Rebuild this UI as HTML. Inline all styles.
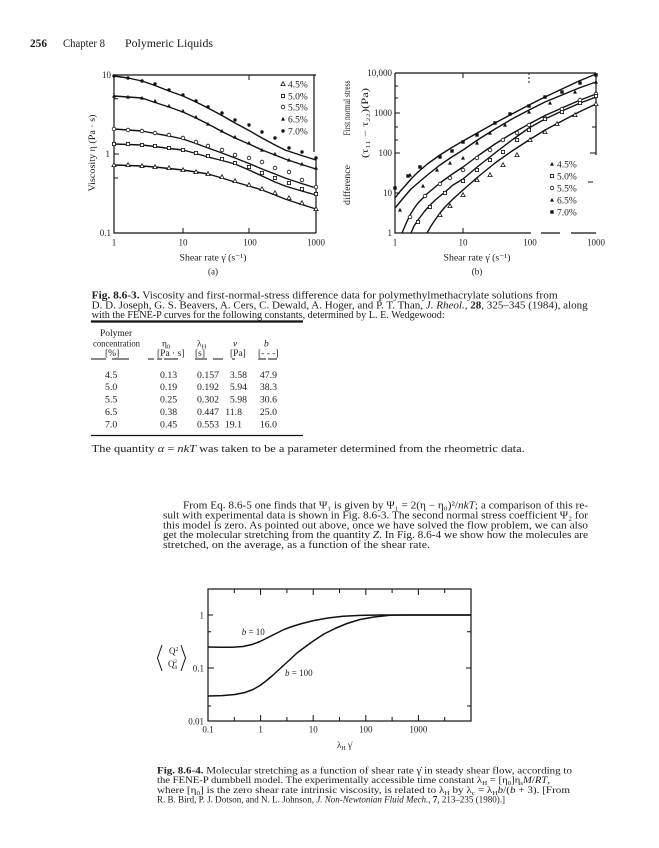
<!DOCTYPE html>
<html><head><meta charset="utf-8">
<style>
html,body{margin:0;padding:0;background:#fff;width:659px;height:848px;overflow:hidden}
svg{display:block}
</style></head>
<body>
<svg xmlns="http://www.w3.org/2000/svg" width="659" height="848" viewBox="0 0 659 848" font-family="'Liberation Serif','DejaVu Serif',serif" fill="#1c1c1c">
<defs>
<circle id="fc" r="1.7" fill="#111"/>
<rect id="fs" x="-1.7" y="-1.7" width="3.4" height="3.4" fill="#111"/>
<path id="ft" d="M0,-2.1L2,1.6H-2Z" fill="#111"/>
<circle id="oc" r="1.8" fill="#fff" stroke="#111" stroke-width="0.8"/>
<rect id="os" x="-1.6" y="-1.6" width="3.2" height="3.2" fill="#fff" stroke="#111" stroke-width="0.8"/>
<path id="ot" d="M0,-2.3L2.1,1.6H-2.1Z" fill="#fff" stroke="#111" stroke-width="0.8"/>
</defs>

<!-- Header -->
<text x="30" y="47" font-size="11.5" font-weight="bold" textLength="17" lengthAdjust="spacingAndGlyphs">256</text>
<text x="63" y="47" font-size="11.5" textLength="42" lengthAdjust="spacingAndGlyphs">Chapter 8</text>
<text x="125" y="47" font-size="11.5" textLength="88" lengthAdjust="spacingAndGlyphs">Polymeric Liquids</text>

<!-- ===== Left chart (a) ===== -->
<g stroke="#111" fill="none" stroke-width="1.2">
<path d="M114,75H316M114,75V233H316M314,75V152M316,157V233"/>
<path stroke-width="1" d="M114,98.8h4M114,154h5M114,178h4M183,233v-5M249,233v-5M249,75v5"/>
<g stroke-width="1.4" stroke-linejoin="round">
<polyline points="114,76 128,78 142,81 155,85.5 169,91 183,96 196,102 208,108 222,115.5 235,123 249,130.5 262,138 275,145 285,150 300,155 316,160"/>
<polyline points="114,96 128,97 142,98 155,102.5 169,107 183,112 196,118 208,124 222,131.5 235,138 249,144 262,150 275,155 285,159 300,164 316,169"/>
<polyline points="114,129 128,130 142,131 155,133.5 169,136 183,139 196,143.5 208,148 222,153 235,158 249,163.5 262,169 275,174 285,178 300,183 316,188"/>
<polyline points="114,144 128,144.5 142,145 155,146.5 169,148.5 183,150 196,153.5 208,157 222,160.5 235,164 249,170 262,176 275,182 285,186 300,190.5 316,195"/>
<polyline points="114,165 128,165.5 142,166 155,167 169,168.5 183,170 196,172 208,174 222,178 235,182 249,186 262,190 275,195 285,199 300,204 316,209"/>
</g>
</g>
<!-- left markers -->
<g>
<use href="#fc" x="114" y="76"/><use href="#fc" x="128" y="78"/><use href="#fc" x="142" y="81"/><use href="#fc" x="155" y="84"/><use href="#fc" x="169" y="90"/><use href="#fc" x="183" y="95"/><use href="#fc" x="196" y="101"/><use href="#fc" x="208" y="107"/><use href="#fc" x="222" y="113"/><use href="#fc" x="235" y="120"/><use href="#fc" x="249" y="125"/><use href="#fc" x="262" y="132"/><use href="#fc" x="275" y="138"/><use href="#fc" x="289" y="148"/><use href="#fc" x="302" y="152"/><use href="#fc" x="316" y="158"/>
<use href="#ft" x="114" y="96"/><use href="#ft" x="128" y="97"/><use href="#ft" x="142" y="98"/><use href="#ft" x="155" y="101"/><use href="#ft" x="169" y="106"/><use href="#ft" x="183" y="111"/><use href="#ft" x="196" y="117"/><use href="#ft" x="208" y="124"/><use href="#ft" x="222" y="131"/><use href="#ft" x="235" y="137"/><use href="#ft" x="249" y="143"/><use href="#ft" x="262" y="150"/><use href="#ft" x="275" y="154"/><use href="#ft" x="289" y="160"/><use href="#ft" x="302" y="164"/><use href="#ft" x="316" y="168"/>
<use href="#oc" x="114" y="129"/><use href="#oc" x="128" y="130"/><use href="#oc" x="142" y="131"/><use href="#oc" x="155" y="133"/><use href="#oc" x="169" y="135"/><use href="#oc" x="183" y="138"/><use href="#oc" x="196" y="142"/><use href="#oc" x="208" y="146"/><use href="#oc" x="222" y="150"/><use href="#oc" x="235" y="155"/><use href="#oc" x="249" y="158"/><use href="#oc" x="262" y="162"/><use href="#oc" x="275" y="168"/><use href="#oc" x="289" y="172"/><use href="#oc" x="302" y="180"/><use href="#oc" x="316" y="187"/>
<use href="#os" x="114" y="144"/><use href="#os" x="128" y="144"/><use href="#os" x="142" y="145"/><use href="#os" x="155" y="146"/><use href="#os" x="169" y="148"/><use href="#os" x="183" y="150"/><use href="#os" x="196" y="153"/><use href="#os" x="208" y="156"/><use href="#os" x="222" y="159"/><use href="#os" x="235" y="163"/><use href="#os" x="249" y="167"/><use href="#os" x="262" y="173"/><use href="#os" x="275" y="178"/><use href="#os" x="289" y="183"/><use href="#os" x="302" y="189"/><use href="#os" x="316" y="194"/>
<use href="#ot" x="114" y="165"/><use href="#ot" x="128" y="165"/><use href="#ot" x="142" y="166"/><use href="#ot" x="155" y="167"/><use href="#ot" x="169" y="168"/><use href="#ot" x="183" y="170"/><use href="#ot" x="196" y="172"/><use href="#ot" x="208" y="174"/><use href="#ot" x="222" y="177"/><use href="#ot" x="235" y="181"/><use href="#ot" x="249" y="185"/><use href="#ot" x="262" y="189"/><use href="#ot" x="275" y="193"/><use href="#ot" x="289" y="198"/><use href="#ot" x="302" y="203"/><use href="#ot" x="316" y="209"/>
</g>
<!-- left legend -->
<rect x="279" y="77" width="34" height="60" fill="#fff"/>
<use href="#ot" x="283" y="84"/><text x="288" y="87.5" font-size="9.5">4.5%</text>
<use href="#os" x="283" y="96"/><text x="288" y="99.5" font-size="9.5">5.0%</text>
<use href="#oc" x="283" y="107"/><text x="288" y="110.5" font-size="9.5">5.5%</text>
<use href="#ft" x="283" y="119"/><text x="288" y="122.5" font-size="9.5">6.5%</text>
<use href="#fc" x="283" y="131"/><text x="288" y="134.5" font-size="9.5">7.0%</text>
<!-- left axis labels -->
<g font-size="9">
<text x="111" y="78" text-anchor="end">10</text>
<text x="110" y="157" text-anchor="end">1</text>
<text x="111" y="236" text-anchor="end">0.1</text>
<text x="114" y="245.5" text-anchor="middle">1</text>
<text x="183" y="245.5" text-anchor="middle">10</text>
<text x="250" y="245.5" text-anchor="middle">100</text>
<text x="316" y="245.5" text-anchor="middle">1000</text>
</g>
<text x="213" y="260.5" font-size="9.5" text-anchor="middle" textLength="67" lengthAdjust="spacingAndGlyphs">Shear rate γ̇ (s⁻¹)</text>
<text x="213" y="274.5" font-size="9" text-anchor="middle">(a)</text>
<text transform="translate(95,153) rotate(-90)" font-size="9.5" text-anchor="middle" textLength="77" lengthAdjust="spacingAndGlyphs">Viscosity η (Pa · s)</text>

<!-- ===== Right chart (b) ===== -->
<g stroke="#111" fill="none" stroke-width="1.2">
<path d="M395,73H596M395,73V233H531M541,233h19M571,233h25M596,73V155"/>
<path stroke-width="1" d="M395,113h5M395,153h5M395,193h5M395,86h3M395,98h3M395,127h3M395,140h3M463,73v5M529,73v2M529,77v2M529,81v2M463,233v-5M596,98h-4M596,127h-4M596,153h-6M593,182h-5"/>
<g stroke-width="1.4" stroke-linejoin="round">
<polyline points="395,198 400,191.5 405,186 411,179 418,172 428,163.5 440,155 451,148 463,141 479,132 495,123 512,114 529,105 545,97 562,89 579,81 596,74"/>
<polyline points="395,208 400,202 405,196 411,189 418,183 428,174.5 440,165 451,157.5 463,150 479,139 495,129 512,119 529,110 545,102 562,95 579,88 596,82"/>
<polyline points="402,233 406,223.5 410,215 414,208.5 418,203 428,193 440,183 451,175 463,167 479,155 495,144 512,133.5 529,124 545,115.5 562,108 579,100.5 596,94"/>
<polyline points="411,233 414,226 418,220 424,212 430,205 437,198.5 445,192 453,185 463,179 479,165.5 495,153 512,140 529,128 545,119 562,111 579,103.5 596,97"/>
<polyline points="427,233 431,226 435,220 440,213 445,207 453,199 463,190 479,176 495,163 512,151 529,140 545,130 562,121 579,112 596,104"/>
</g>
</g>
<!-- right markers -->
<g>
<use href="#fs" x="395" y="188"/><use href="#fs" x="408" y="176"/><use href="#fs" x="420" y="167"/><use href="#fs" x="440" y="157"/><use href="#fs" x="452" y="151"/><use href="#fs" x="463" y="142"/><use href="#fs" x="477" y="135"/><use href="#fs" x="495" y="123"/><use href="#fs" x="510" y="114"/><use href="#fs" x="529" y="106"/><use href="#fs" x="545" y="97"/><use href="#fs" x="562" y="92"/><use href="#fs" x="580" y="83"/><use href="#fs" x="596" y="75"/>
<use href="#ft" x="400" y="210"/><use href="#ft" x="410" y="175"/><use href="#ft" x="423" y="186"/><use href="#ft" x="437" y="170"/><use href="#ft" x="450" y="163"/><use href="#ft" x="463" y="158"/><use href="#ft" x="477" y="143"/><use href="#ft" x="490" y="133"/><use href="#ft" x="505" y="125"/><use href="#ft" x="529" y="112"/><use href="#ft" x="550" y="103"/><use href="#ft" x="575" y="92"/><use href="#ft" x="596" y="82"/>
<use href="#oc" x="410" y="217"/><use href="#oc" x="425" y="196"/><use href="#oc" x="440" y="184"/><use href="#oc" x="450" y="178"/><use href="#oc" x="463" y="170"/><use href="#oc" x="477" y="158"/><use href="#oc" x="490" y="150"/><use href="#oc" x="503" y="140"/><use href="#oc" x="517" y="133"/><use href="#oc" x="529" y="125"/><use href="#oc" x="545" y="118"/><use href="#oc" x="562" y="109"/><use href="#oc" x="580" y="100"/><use href="#oc" x="596" y="94"/>
<use href="#os" x="418" y="222"/><use href="#os" x="430" y="207"/><use href="#os" x="445" y="193"/><use href="#os" x="463" y="181"/><use href="#os" x="477" y="170"/><use href="#os" x="490" y="160"/><use href="#os" x="503" y="152"/><use href="#os" x="517" y="140"/><use href="#os" x="529" y="130"/><use href="#os" x="545" y="119"/><use href="#os" x="562" y="112"/><use href="#os" x="580" y="103"/><use href="#os" x="596" y="96"/>
<use href="#ot" x="440" y="215"/><use href="#ot" x="450" y="206"/><use href="#ot" x="463" y="195"/><use href="#ot" x="477" y="180"/><use href="#ot" x="490" y="175"/><use href="#ot" x="503" y="165"/><use href="#ot" x="517" y="155"/><use href="#ot" x="530" y="140"/><use href="#ot" x="545" y="132"/><use href="#ot" x="557" y="124"/><use href="#ot" x="575" y="115"/><use href="#ot" x="596" y="104"/>
</g>
<!-- right legend -->
<rect x="547" y="158" width="36" height="60" fill="#fff"/>
<use href="#ft" x="552" y="164"/><text x="557" y="167.5" font-size="9.5">4.5%</text>
<use href="#os" x="552" y="176"/><text x="557" y="179.5" font-size="9.5">5.0%</text>
<use href="#oc" x="552" y="188"/><text x="557" y="191.5" font-size="9.5">5.5%</text>
<use href="#ft" x="552" y="200"/><text x="557" y="203.5" font-size="9.5">6.5%</text>
<use href="#fs" x="552" y="212"/><text x="557" y="215.5" font-size="9.5">7.0%</text>
<!-- right axis labels -->
<g font-size="9">
<text x="392" y="76" text-anchor="end">10,000</text>
<text x="392" y="116" text-anchor="end">1000</text>
<text x="392" y="156" text-anchor="end">100</text>
<text x="392" y="196" text-anchor="end">10</text>
<text x="392" y="236" text-anchor="end">1</text>
<text x="395" y="245.5" text-anchor="middle">1</text>
<text x="463" y="245.5" text-anchor="middle">10</text>
<text x="530" y="245.5" text-anchor="middle">100</text>
<text x="596" y="245.5" text-anchor="middle">1000</text>
</g>
<text x="477" y="260.5" font-size="9.5" text-anchor="middle" textLength="67" lengthAdjust="spacingAndGlyphs">Shear rate γ̇ (s⁻¹)</text>
<text x="477" y="274.5" font-size="9" text-anchor="middle">(b)</text>
<text transform="translate(350,108) rotate(-90)" font-size="9" text-anchor="middle" textLength="55" lengthAdjust="spacingAndGlyphs">First normal stress</text>
<text transform="translate(350,185) rotate(-90)" font-size="9" text-anchor="middle" textLength="40" lengthAdjust="spacingAndGlyphs">difference</text>
<text transform="translate(368,123) rotate(-90)" font-size="9" text-anchor="middle" textLength="70" lengthAdjust="spacingAndGlyphs">(τ₁₁ − τ₂₂)(Pa)</text>

<!-- ===== Caption Fig 8.6-3 ===== -->
<g font-size="10">
<text x="91.7" y="298.5" textLength="466" lengthAdjust="spacingAndGlyphs"><tspan font-weight="bold">Fig. 8.6-3.</tspan> Viscosity and first-normal-stress difference data for polymethylmethacrylate solutions from</text>
<text x="91.7" y="308.3" textLength="496" lengthAdjust="spacingAndGlyphs">D. D. Joseph, G. S. Beavers, A. Cers, C. Dewald, A. Hoger, and P. T. Than, <tspan font-style="italic">J. Rheol.</tspan>, <tspan font-weight="bold">28</tspan>, 325–345 (1984), along</text>
<text x="91.7" y="318" textLength="353" lengthAdjust="spacingAndGlyphs">with the FENE-P curves for the following constants, determined by L. E. Wedgewood:</text>
</g>
<g stroke="#111" fill="none">
<path d="M91,321.5H303" stroke-width="2.2"/>
<path d="M91,359h15M112,359h17M148,359h6M157,359h5M164,359h14M195,359h12M213,359h10M232,359h3M258,359h8M268,359h9" stroke-width="1"/>
<path d="M91,435.5H303" stroke-width="1.2"/>
</g>
<!-- table -->
<g font-size="9.5">
<text x="100" y="336">Polymer</text>
<text x="93" y="346.5" textLength="47" lengthAdjust="spacingAndGlyphs">concentration</text>
<text x="105" y="356">[%]</text>
<text x="162" y="346.5">η<tspan font-size="6.5" dy="2">0</tspan></text>
<text x="157" y="356">[Pa · s]</text>
<text x="197" y="346.5">λ<tspan font-size="6.5" dy="2">H</tspan></text>
<text x="195" y="356">[s]</text>
<text x="233" y="346.5" font-style="italic">ν</text>
<text x="230" y="356">[Pa]</text>
<text x="264" y="346.5" font-style="italic">b</text>
<text x="258" y="356">[- - -]</text>
</g>
<g font-size="9.8">
<text x="105" y="377.8">4.5</text><text x="160" y="377.8">0.13</text><text x="197" y="377.8">0.157</text><text x="247" y="377.8" text-anchor="end">3.58</text><text x="277" y="377.8" text-anchor="end">47.9</text>
<text x="105" y="390.2">5.0</text><text x="160" y="390.2">0.19</text><text x="197" y="390.2">0.192</text><text x="247" y="390.2" text-anchor="end">5.94</text><text x="277" y="390.2" text-anchor="end">38.3</text>
<text x="105" y="402.5">5.5</text><text x="160" y="402.5">0.25</text><text x="197" y="402.5">0.302</text><text x="247" y="402.5" text-anchor="end">5.98</text><text x="277" y="402.5" text-anchor="end">30.6</text>
<text x="105" y="415.2">6.5</text><text x="160" y="415.2">0.38</text><text x="197" y="415.2">0.447</text><text x="242" y="415.2" text-anchor="end">11.8</text><text x="277" y="415.2" text-anchor="end">25.0</text>
<text x="105" y="427.5">7.0</text><text x="160" y="427.5">0.45</text><text x="197" y="427.5">0.553</text><text x="242" y="427.5" text-anchor="end">19.1</text><text x="277" y="427.5" text-anchor="end">16.0</text>
</g>
<text x="91.7" y="451.8" font-size="10" textLength="433" lengthAdjust="spacingAndGlyphs">The quantity <tspan font-style="italic">α</tspan> = <tspan font-style="italic">nkT</tspan> was taken to be a parameter determined from the rheometric data.</text>

<!-- ===== Paragraph ===== -->
<g font-size="10.3">
<text x="183" y="508.7" textLength="405" lengthAdjust="spacingAndGlyphs">From Eq. 8.6-5 one finds that Ψ₁ is given by Ψ₁ = 2(η − η₀)²/<tspan font-style="italic">nkT</tspan>; a comparison of this re-</text>
<text x="163" y="518.5" textLength="425" lengthAdjust="spacingAndGlyphs">sult with experimental data is shown in Fig. 8.6-3. The second normal stress coefficient Ψ₂ for</text>
<text x="163" y="528.3" textLength="425" lengthAdjust="spacingAndGlyphs">this model is zero. As pointed out above, once we have solved the flow problem, we can also</text>
<text x="163" y="538.1" textLength="425" lengthAdjust="spacingAndGlyphs">get the molecular stretching from the quantity <tspan font-style="italic">Z</tspan>. In Fig. 8.6-4 we show how the molecules are</text>
<text x="163" y="547.9" textLength="267" lengthAdjust="spacingAndGlyphs">stretched, on the average, as a function of the shear rate.</text>
</g>

<!-- ===== Bottom chart ===== -->
<g stroke="#111" fill="none" stroke-width="1.2">
<rect x="208" y="589" width="263" height="132"/>
<path stroke-width="1" d="M234.3,721v-4M260.6,721v-6M286.9,721v-4M313.2,721v-6M339.5,721v-4M365.8,721v-6M392.1,721v-4M418.4,721v-6M444.7,721v-4M234.3,589v4M260.6,589v6M286.9,589v4M313.2,589v6M339.5,589v4M365.8,589v6M392.1,589v4M418.4,589v6M444.7,589v4M208,615h5M208,668h6M208,631.7h3M208,706h3M471,615h-5M471,631.7h-4M471,668h-5M471,706h-4"/>
<g stroke-width="1.5" stroke-linejoin="round">
<polyline points="208,647 220,647.3 232,647.3 243,646.5 252,644.5 260,641.5 268,637.5 276,633.5 284,629.5 292,626.5 302,623.5 314,620.5 328,618 343,616.3 360,615.4 380,615 471,615"/>
<polyline points="208,696 222,695.6 235,694.5 245,692.5 253,689.5 260,685.5 266,681 272,676 278,670.5 284,665 290,659.5 297,653 305,647 314,640.5 324,634 335,628.5 347,623.5 360,619.5 374,617 390,615.3 405,615 471,615"/>
</g>
<path stroke-width="1" d="M162,645L157.5,658L162,671M181,645L185.5,658L181,671"/>
</g>
<text x="169" y="654" font-size="9">Q<tspan font-size="6" dy="-3">2</tspan></text>
<text x="168" y="667" font-size="9">Q<tspan font-size="5.5" dy="2">0</tspan><tspan font-size="5.5" dx="-3" dy="-6">2</tspan></text>
<text x="241.7" y="635" font-size="9"><tspan font-style="italic">b</tspan> = 10</text>
<text x="285" y="676" font-size="9"><tspan font-style="italic">b</tspan> = 100</text>
<g font-size="9">
<text x="204" y="618.5" text-anchor="end">1</text>
<text x="204" y="671.5" text-anchor="end">0.1</text>
<text x="204" y="724.5" text-anchor="end">0.01</text>
<text x="208" y="732.5" text-anchor="middle">0.1</text>
<text x="260.6" y="732.5" text-anchor="middle">1</text>
<text x="313.2" y="732.5" text-anchor="middle">10</text>
<text x="365.8" y="732.5" text-anchor="middle">100</text>
<text x="418.4" y="732.5" text-anchor="middle">1000</text>
<text x="337" y="748">λ<tspan font-size="6" dy="2">H</tspan><tspan dy="-2"> γ̇</tspan></text>
</g>

<!-- ===== Caption Fig 8.6-4 ===== -->
<g font-size="9.8">
<text x="157" y="773.5" textLength="415" lengthAdjust="spacingAndGlyphs"><tspan font-weight="bold">Fig. 8.6-4.</tspan> Molecular stretching as a function of shear rate γ̇ in steady shear flow, according to</text>
<text x="157" y="783.2" textLength="393" lengthAdjust="spacingAndGlyphs">the FENE-P dumbbell model. The experimentally accessible time constant λ<tspan font-size="6.5" dy="2">H</tspan><tspan dy="-2"> = [η</tspan><tspan font-size="6.5" dy="2">0</tspan><tspan dy="-2">]η</tspan><tspan font-size="6.5" dy="2">s</tspan><tspan dy="-2"><tspan font-style="italic">M</tspan>/<tspan font-style="italic">RT</tspan>,</tspan></text>
<text x="157" y="792.9" textLength="413" lengthAdjust="spacingAndGlyphs">where [η<tspan font-size="6.5" dy="2">0</tspan><tspan dy="-2">] is the zero shear rate intrinsic viscosity, is related to λ</tspan><tspan font-size="6.5" dy="2">H</tspan><tspan dy="-2"> by λ</tspan><tspan font-size="6.5" dy="2">c</tspan><tspan dy="-2"> = λ</tspan><tspan font-size="6.5" dy="2">H</tspan><tspan dy="-2"><tspan font-style="italic">b</tspan>/(<tspan font-style="italic">b</tspan> + 3). [From</tspan></text>
<text x="157" y="802.5" textLength="348" lengthAdjust="spacingAndGlyphs">R. B. Bird, P. J. Dotson, and N. L. Johnson, <tspan font-style="italic">J. Non-Newtonian Fluid Mech.</tspan>, <tspan font-weight="bold">7</tspan>, 213–235 (1980).]</text>
</g>
</svg>
</body></html>
